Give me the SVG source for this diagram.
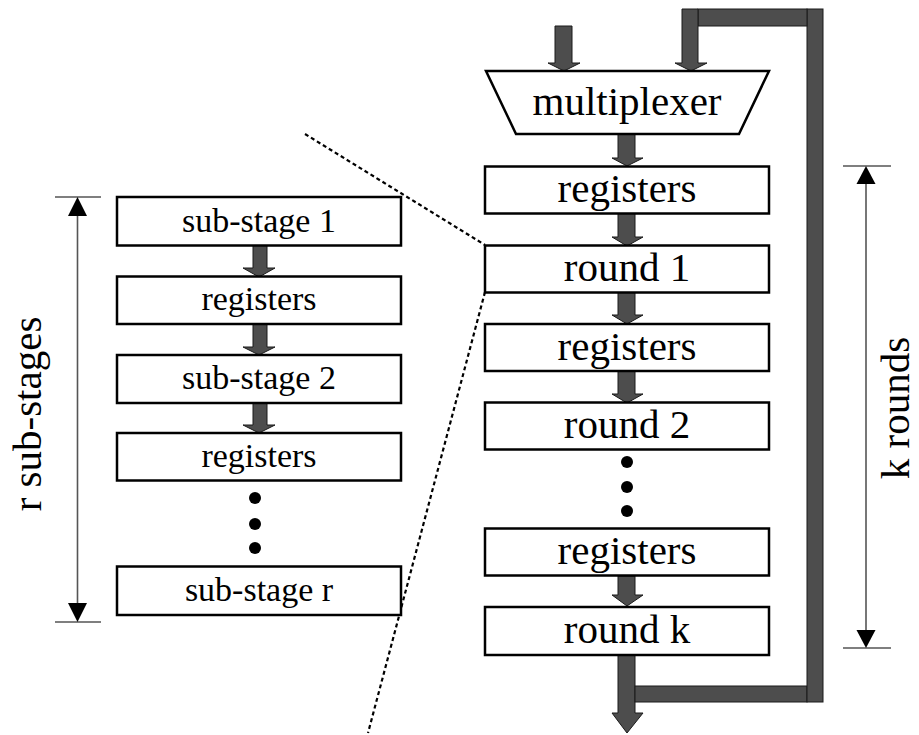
<svg xmlns="http://www.w3.org/2000/svg" width="919" height="735" viewBox="0 0 919 735">
<style>
.box{fill:#fff;stroke:#000;stroke-width:2.5}
.pipe{fill:#4d4d4d;stroke:#1a1a1a;stroke-width:1}
.t{font-family:"Liberation Serif","Times New Roman",serif;fill:#000;text-anchor:middle}
.big{font-size:41px}
.sm{font-size:34px}
.dim{stroke:#555;stroke-width:1.6;fill:none}
.tick{stroke:#000;stroke-width:1.2}
.dash{stroke:#000;stroke-width:2.2;stroke-dasharray:4 3;fill:none}
.dot{fill:#000}
</style>
<rect width="919" height="735" fill="#fff"/>

<g id="connectors">
  <!-- right column arrows -->
  <polygon class="pipe" points="555,26 572,26 572,63 580,63 564,71 548,63 555,63"/>
  <polygon class="pipe" points="618,134 635,134 635,158 643,158 627,166 612,158 618,158"/>
  <polygon class="pipe" points="618,213 635,213 635,237 643,237 627,246 612,237 618,237"/>
  <polygon class="pipe" points="618,292 635,292 635,315 643,315 627,324 612,315 618,315"/>
  <polygon class="pipe" points="618,371 635,371 635,394 643,394 627,403 612,394 618,394"/>
  <polygon class="pipe" points="618,576 635,576 635,595 643,595 627,606 612,595 618,595"/>
  <polygon class="pipe" points="618,655 635,655 635,713 643,713 627,733 612,713 618,713"/>
  <!-- feedback loop -->
  <rect class="pipe" x="635" y="686" width="172" height="16"/>
  <rect class="pipe" x="807" y="9" width="16" height="693"/>
  <rect class="pipe" x="698" y="9" width="109" height="17"/>
  <polygon class="pipe" points="682,9 698,9 698,63 707,63 691,71 675,63 682,63"/>
  <!-- left column arrows -->
  <polygon class="pipe" points="253,245 267,245 267,268 275,268 259,277 243,268 253,268"/>
  <polygon class="pipe" points="253,324 267,324 267,347 275,347 259,355 243,347 253,347"/>
  <polygon class="pipe" points="253,403 267,403 267,425 275,425 259,433 243,425 253,425"/>
  <!-- zoom dashed lines -->
  <line class="dash" x1="305" y1="134" x2="485" y2="245"/>
  <line class="dash" x1="485" y1="292" x2="368" y2="733"/>
</g>

<g id="mux">
  <polygon class="box" points="486,71 769,71 739,134 516,134"/>
  <text class="t big" x="627" y="115">multiplexer</text>
</g>
<g id="r-registers-1">
  <rect class="box" x="485" y="166.5" width="284" height="47"/>
  <text class="t big" x="627" y="202">registers</text>
</g>
<g id="round-1">
  <rect class="box" x="485" y="245.5" width="284" height="47"/>
  <text class="t big" x="627" y="281">round 1</text>
</g>
<g id="r-registers-2">
  <rect class="box" x="485" y="324" width="284" height="47"/>
  <text class="t big" x="627" y="360">registers</text>
</g>
<g id="round-2">
  <rect class="box" x="485" y="402.5" width="284" height="47"/>
  <text class="t big" x="627" y="438">round 2</text>
</g>
<g id="r-dots">
  <circle class="dot" cx="627" cy="462" r="6"/>
  <circle class="dot" cx="627" cy="487" r="6"/>
  <circle class="dot" cx="627" cy="511" r="6"/>
</g>
<g id="r-registers-3">
  <rect class="box" x="485" y="528.5" width="284" height="47"/>
  <text class="t big" x="627" y="564">registers</text>
</g>
<g id="round-k">
  <rect class="box" x="485" y="607" width="284" height="48"/>
  <text class="t big" x="627" y="643">round k</text>
</g>

<g id="sub-stage-1">
  <rect class="box" x="117" y="197" width="284" height="48.5"/>
  <text class="t sm" x="259" y="232">sub-stage 1</text>
</g>
<g id="l-registers-1">
  <rect class="box" x="117" y="276.5" width="284" height="47.5"/>
  <text class="t sm" x="259" y="310">registers</text>
</g>
<g id="sub-stage-2">
  <rect class="box" x="117" y="355" width="284" height="48"/>
  <text class="t sm" x="259" y="389">sub-stage 2</text>
</g>
<g id="l-registers-2">
  <rect class="box" x="117" y="433" width="284" height="47.5"/>
  <text class="t sm" x="259" y="467">registers</text>
</g>
<g id="l-dots">
  <circle class="dot" cx="255" cy="498" r="6"/>
  <circle class="dot" cx="255" cy="524" r="6"/>
  <circle class="dot" cx="255" cy="548" r="6"/>
</g>
<g id="sub-stage-r">
  <rect class="box" x="117" y="566.5" width="284" height="48.5"/>
  <text class="t sm" x="259" y="601">sub-stage r</text>
</g>

<g id="dim-left">
  <line class="tick" x1="55" y1="197" x2="101" y2="197"/>
  <line class="tick" x1="55" y1="622" x2="101" y2="622"/>
  <line class="dim" x1="77.5" y1="210" x2="77.5" y2="610"/>
  <polygon points="77.5,197 87,216 68,216" fill="#000"/>
  <polygon points="77.5,622 87,603 68,603" fill="#000"/>
  <text class="t big" transform="translate(41,414) rotate(-90)">r sub-stages</text>
</g>
<g id="dim-right">
  <line class="tick" x1="843" y1="166" x2="891" y2="166"/>
  <line class="tick" x1="843" y1="648" x2="891" y2="648"/>
  <line class="dim" x1="866" y1="178" x2="866" y2="636"/>
  <polygon points="866,166 875.5,184 856.5,184" fill="#000"/>
  <polygon points="866,648 875.5,630 856.5,630" fill="#000"/>
  <text class="t big" transform="translate(909,408) rotate(-90)">k rounds</text>
</g>
</svg>
